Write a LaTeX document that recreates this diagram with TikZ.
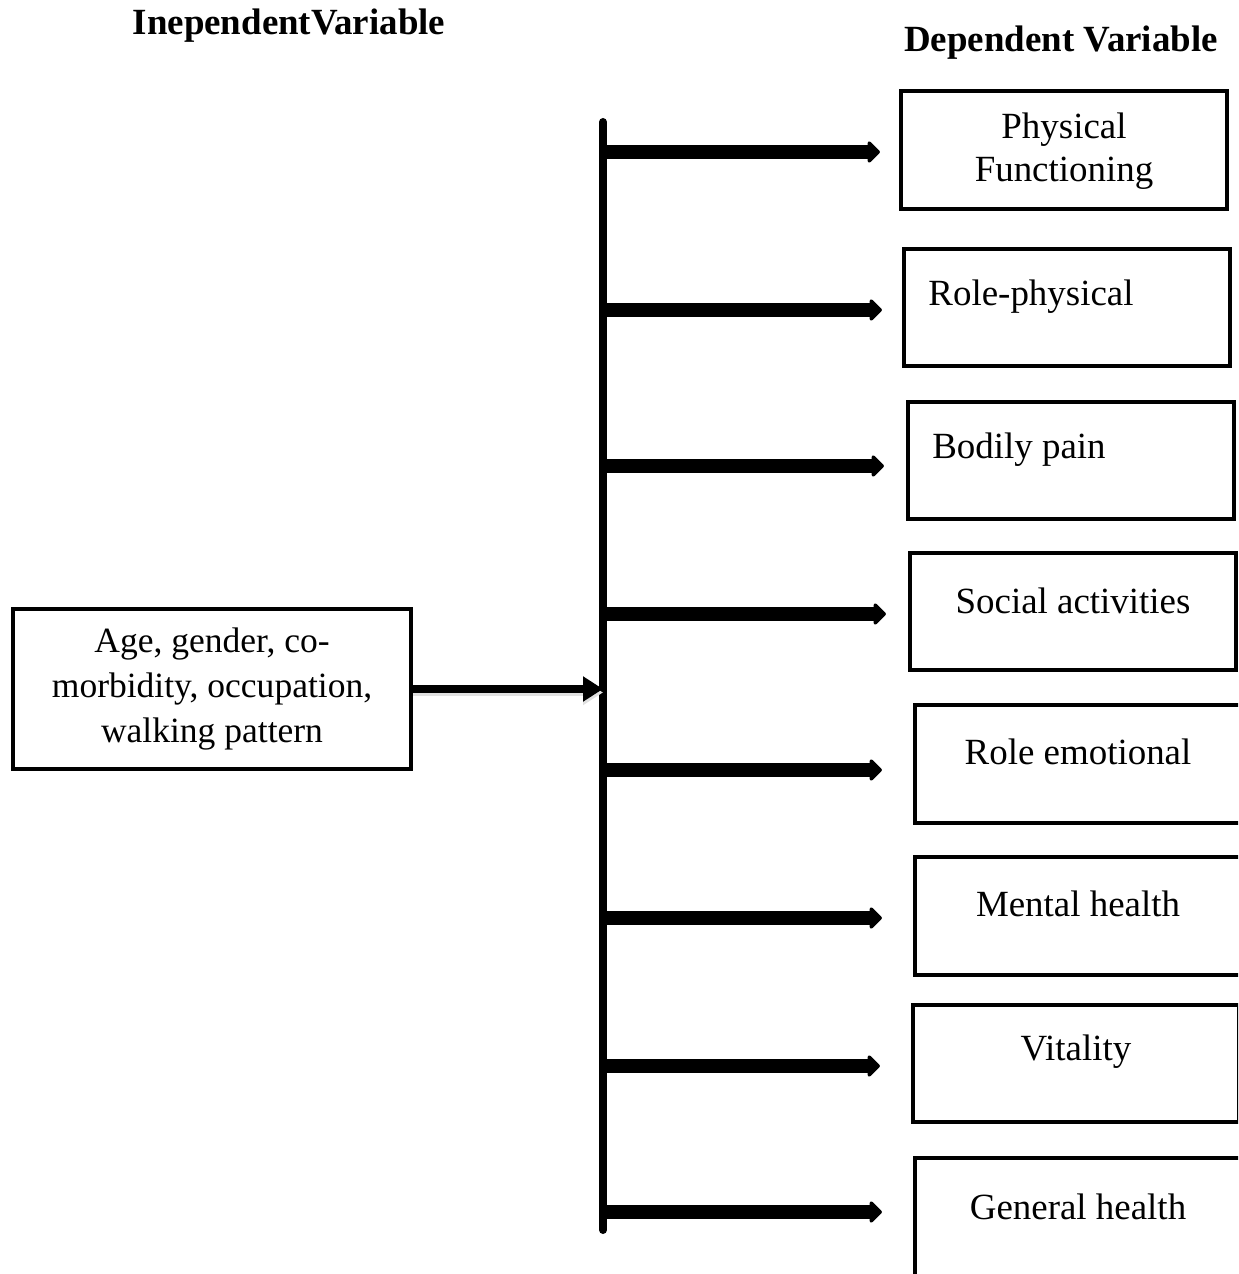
\documentclass[tikz,border=0pt]{standalone}
\usepackage{fontspec}
\setmainfont{Liberation Serif}
\usepackage{tikz}
\usetikzlibrary{
  arrows.meta,
  positioning,
  calc
}
\tikzset{
  cfnode/.style={
    draw, line width=0.04cm, inner sep=0pt, align=center,
    font=\fontsize{10.5}{12.4}\selectfont
  },
  ivbox/.style={cfnode, minimum width=3.98cm, minimum height=1.6cm,
    font=\fontsize{10.1}{12.8}\selectfont},
  dvbox/.style={cfnode, minimum width=3.26cm, minimum height=1.17cm},
  dvtext/.style={font=\fontsize{10.5}{12.2}\selectfont, align=center, yshift=0.11cm},
  headline/.style={font=\fontsize{10.5}{12.4}\selectfont\bfseries},
  trunk/.style={line width=0.08cm, line cap=round},
  branch/.style={-{Triangle[length=0.13cm, width=0.25cm, round]}, line width=0.14cm},
  feed/.style={-{Triangle[length=0.2cm, width=0.24cm]}, line width=0.07cm,
    preaction={draw=black!12, line width=0.06cm, transform canvas={yshift=-0.035cm}}}
}

\begin{document}
\begin{tikzpicture}[x=0.01cm, y=-0.01cm]
  \path[use as bounding box, clip] (0,0) rectangle (1238,1274);

  % headings
  \node[headline] (ivhead) at (289,26) {InependentVariable};
  \node[headline] (dvhead) at (1061,43) {Dependent Variable};

  % independent variable
  \node[ivbox] (iv) at (212,689) {Age, gender, co-\\morbidity, occupation,\\walking pattern};

  % dependent variables
  \node[dvbox, label={[dvtext, yshift=-0.12cm]center:Physical\\Functioning}] (pf) at (1064,150) {};
  \node[dvbox, label={[dvtext, xshift=-0.36cm]center:Role-physical}] (rp) at (1067,307.5) {};
  \node[dvbox, label={[dvtext, xshift=-0.52cm]center:Bodily pain}] (bp) at (1071,460.5) {};
  \node[dvbox, label={[dvtext]center:Social activities}] (sa) at (1073,611.5) {};
  \node[dvbox, label={[dvtext, yshift=0.01cm]center:Role emotional}] (re) at (1078,764) {};
  \node[dvbox, label={[dvtext, yshift=0.01cm]center:Mental health}] (mh) at (1078,916) {};
  \node[dvbox, label={[dvtext, yshift=0.01cm]center:Vitality}] (vt) at (1076,1063.5) {};
  \node[dvbox, label={[dvtext, yshift=-0.01cm]center:General health}] (gh) at (1078,1217) {};

  % trunk line
  \coordinate (top) at (603,122);
  \coordinate (bottom) at (603,1230);
  \draw[trunk] (top) -- (bottom);

  \coordinate (t1) at (603,152);
  \coordinate (t2) at (603,310);
  \coordinate (t3) at (603,466);
  \coordinate (t4) at (603,614);
  \coordinate (t5) at (603,770);
  \coordinate (t6) at (603,918);
  \coordinate (t7) at (603,1066);
  \coordinate (t8) at (603,1212);

  \draw[feed] (iv.east) -- (iv.east -| top);

  \draw[branch, shorten >=0.19cm] (t1) -- (t1 -| pf.west);
  \draw[branch, shorten >=0.2cm] (t2) -- (t2 -| rp.west);
  \draw[branch, shorten >=0.22cm] (t3) -- (t3 -| bp.west);
  \draw[branch, shorten >=0.22cm] (t4) -- (t4 -| sa.west);
  \draw[branch, shorten >=0.31cm] (t5) -- (t5 -| re.west);
  \draw[branch, shorten >=0.31cm] (t6) -- (t6 -| mh.west);
  \draw[branch, shorten >=0.31cm] (t7) -- (t7 -| vt.west);
  \draw[branch, shorten >=0.31cm] (t8) -- (t8 -| gh.west);
\end{tikzpicture}
\end{document}
